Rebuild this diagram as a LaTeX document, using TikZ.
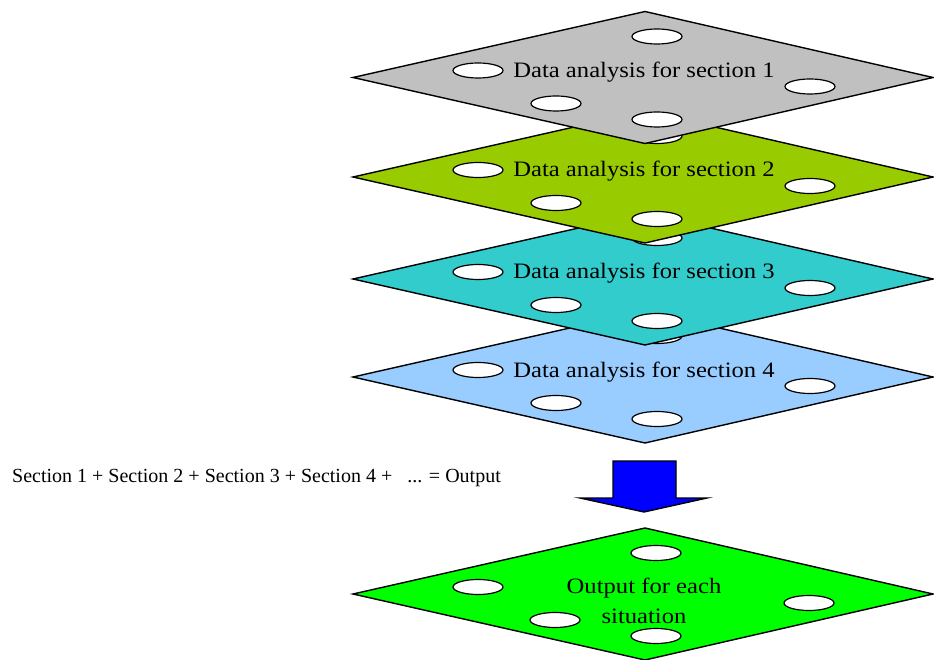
\documentclass[tikz,border=0pt]{standalone}
\usepackage{fontspec}
\setmainfont{Liberation Serif}
\usetikzlibrary{calc,shapes.geometric}
\definecolor{plategray}{HTML}{C0C0C0}
\definecolor{plategreen}{HTML}{99CC00}
\definecolor{plateteal}{HTML}{33CCCC}
\definecolor{plateblue}{HTML}{99CCFF}
\definecolor{platelime}{HTML}{00FF00}
\definecolor{arrowblue}{HTML}{0000FF}
\tikzset{
  plate/.style={draw=black, line width=1.4pt, line join=miter},
  hole/.style={ellipse, draw=black, line width=1.2pt, fill=white,
    minimum width=50pt, minimum height=15pt, inner sep=0pt},
  lbl/.style={font=\fontsize{22}{30}\selectfont, inner sep=0pt},
  sumtext/.style={font=\fontsize{20}{24}\selectfont, inner sep=0pt},
  blockarrow/.style={draw=black, line width=1.4pt, fill=arrowblue, line join=miter}
}
\newcommand\drawplate[4]{% name, y, colour, text
  \coordinate (#1) at (645,#2);
  \draw[plate, fill=#3] ($(#1)+(-292,0)$) -- ($(#1)+(0,-66)$) -- ($(#1)+(288,0)$) -- ($(#1)+(0,66)$) -- cycle;
  \node[lbl, anchor=base] (#1-t) at ($(#1)+(-1,0)$) {\scalebox{1.12}[1]{#4}};
  \node[hole] (#1-a) at ($(#1)+(12,-41)$) {};
  \node[hole] (#1-b) at ($(#1)+(-167,-7)$) {};
  \node[hole] (#1-c) at ($(#1)+(165,9)$) {};
  \node[hole] (#1-d) at ($(#1)+(-89,26)$) {};
  \node[hole] (#1-e) at ($(#1)+(12,42)$) {};
}
\begin{document}
\begin{tikzpicture}[x=1pt, y=-1pt]
  \useasboundingbox (0,0) rectangle (934,660);
  % stacked plates, lowest first
  \drawplate{p4}{377}{plateblue}{Data analysis for section 4}
  \drawplate{p3}{279}{plateteal}{Data analysis for section 3}
  \drawplate{p2}{177}{plategreen}{Data analysis for section 2}
  \drawplate{p1}{77.5}{plategray}{Data analysis for section 1}
  % output plate
  \coordinate (po) at (645,594);
  \draw[plate, fill=platelime] ($(po)+(-292,0)$) -- ($(po)+(0,-66)$) -- ($(po)+(288,0)$) -- ($(po)+(0,66)$) -- cycle;
  \node[lbl, anchor=north, align=center] (po-t) at ($(po)+(-1,-16.5)$)
    {\scalebox{1.12}[1]{Output for each}\\\scalebox{1.12}[1]{situation}};
  \node[hole] (po-a) at ($(po)+(11,-41)$) {};
  \node[hole] (po-b) at ($(po)+(-167,-7)$) {};
  \node[hole] (po-c) at ($(po)+(164,9)$) {};
  \node[hole] (po-d) at ($(po)+(-90,26)$) {};
  \node[hole] (po-e) at ($(po)+(11,42)$) {};
  % block arrow
  \coordinate (ar) at (644,461);
  \draw[blockarrow] ($(ar)+(-31,0)$) -- ($(ar)+(32,0)$) -- ($(ar)+(32,37)$) -- ($(ar)+(63,37)$)
    -- ($(ar)+(0,51)$) -- ($(ar)+(-64,37)$) -- ($(ar)+(-31,37)$) -- cycle;
  % sum text
  \node[sumtext, anchor=base west] (sum) at (12,482)
    {Section 1 + Section 2 + Section 3 + Section 4 +\ \ \ ... = Output};
\end{tikzpicture}
\end{document}
